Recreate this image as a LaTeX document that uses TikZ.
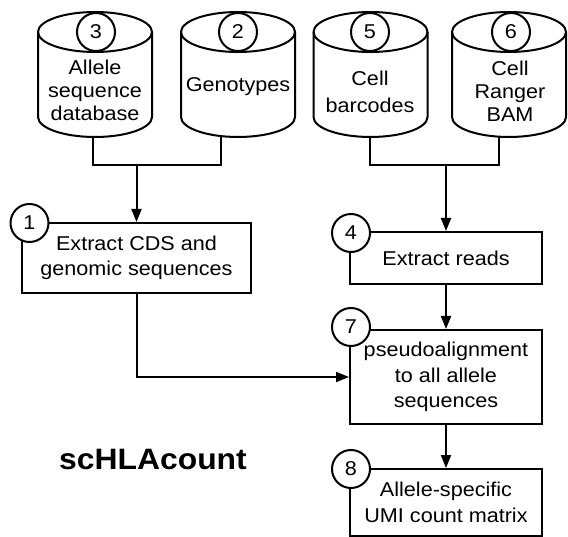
\documentclass[tikz,border=0pt]{standalone}
\usepackage{fontspec}
\setmainfont[FakeStretch=1.08]{Liberation Sans}
\usetikzlibrary{arrows.meta}
\begin{document}
\begin{tikzpicture}[x=1pt,y=-1pt,line width=2pt,
  box/.style={draw,rectangle,align=center,inner sep=0pt,font=\fontsize{20}{25.5}\selectfont},
  num/.style={draw,circle,fill=white,minimum size=38pt,inner sep=0pt,font=\fontsize{20}{24}\selectfont},
  cyltext/.style={align=center,font=\fontsize{20}{23}\selectfont},
  arr/.style={-{Triangle[length=13pt,width=10pt]}},
  dbcyl/.pic={
    \draw[fill=white] (-57,32) -- (-57,117) arc[start angle=180,end angle=0,x radius=57,y radius=20]
      -- (57,32) arc[start angle=0,end angle=-180,x radius=57,y radius=20] -- cycle;
    \draw (-57,32) arc[start angle=180,end angle=0,x radius=57,y radius=20];
  }]
\useasboundingbox (0,0) rectangle (568,537);

% cylinders
\pic at (95,0) {dbcyl};
\pic at (238,0) {dbcyl};
\pic at (370.5,0) {dbcyl};
\pic at (509,0) {dbcyl};

\node[num] (n3) at (96,32) {3};
\node[num] (n2) at (238,32) {2};
\node[num] (n5) at (370,32) {5};
\node[num] (n6) at (511,32) {6};

\node[cyltext] (t3) at (95,90.5) {Allele\\sequence\\database};
\node[cyltext] (t2) at (238,87) {Genotypes};
\node[cyltext] (t5) at (370,91.5) {Cell\\[4pt]barcodes};
\node[cyltext] (t6) at (510,91.5) {Cell\\Ranger\\BAM};

\coordinate (c3b) at (93,137);
\coordinate (c2b) at (221,137);
\coordinate (c5b) at (370,137);
\coordinate (c6b) at (499,137);
\coordinate (j1) at (136.5,165);
\coordinate (j2) at (446,165);

% boxes
\node[box,minimum width=229pt,minimum height=70pt] (b1) at (136.5,258) {Extract CDS and\\genomic sequences};
\node[box,minimum width=192pt,minimum height=52pt] (b4) at (446,258) {Extract reads};
\node[box,minimum width=192pt,minimum height=94pt] (b7) at (446,377) {pseudoalignment\\to all allele\\sequences};
\node[box,minimum width=192pt,minimum height=67pt] (b8) at (446,502.5) {Allele-specific\\UMI count matrix};

% connectors
\draw (c3b) -- (c3b |- j1) -| (c2b);
\draw[arr] (j1) -- (b1.north);
\draw (c5b) -- (c5b |- j2) -| (c6b);
\draw[arr] (j2) -- (b4.north);
\draw[arr] (b4.south) -- (b7.north);
\draw[arr] (b7.south) -- (b8.north);
\draw[arr] (b1.south) |- (b7.west);

% step numbers on boxes
\node[num] (n1) at (29.5,223) {1};
\node[num] (n4) at (351,233) {4};
\node[num] (n7) at (351,327) {7};
\node[num] (n8) at (351,469) {8};

\node[font=\fontsize{29.5}{32}\selectfont\bfseries] (title) at (153,459) {scHLAcount};
\end{tikzpicture}
\end{document}
